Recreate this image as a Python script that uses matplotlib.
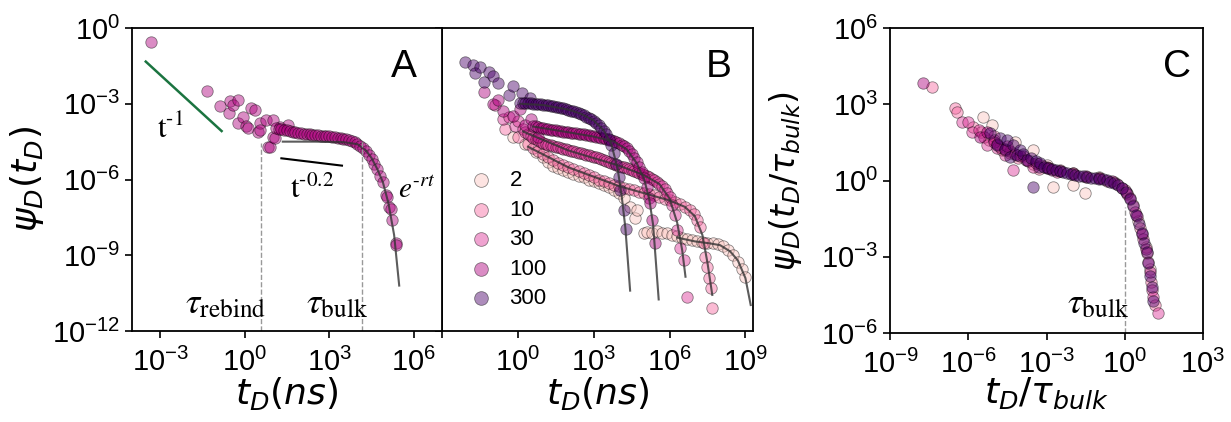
import numpy as np
import matplotlib
matplotlib.use("Agg")
import matplotlib.pyplot as plt
from matplotlib.ticker import FixedLocator, NullLocator, FuncFormatter

plt.rcParams["font.family"] = ["Liberation Sans", "DejaVu Sans"]
plt.rcParams["mathtext.fontset"] = "dejavusans"

# series names / colours (legend of panel B)
labels = ["2", "10", "30", "100", "300"]
colors = ["#fcc5c0", "#f768a1", "#dd3497", "#ae017e", "#49006a"]

# ---------------- panel A (log10 values) ----------------
a_logt = [-3.32, -1.33, -0.88, -0.57, -0.53, -0.42, -0.25, -0.25, -0.07, 0.06, 0.11,
          0.24, 0.35, 0.46, 0.53, 0.53, 0.77, 0.81, 0.88, 1.0, 1.0, 1.06, 1.24, 1.52,
          1.1, 1.2, 1.3, 1.4, 1.5, 1.6, 1.7, 1.8, 1.9, 2.0, 2.1, 2.2, 2.3, 2.4, 2.5,
          2.6, 2.7, 2.8, 2.9, 3.0, 3.1, 3.2, 3.3, 3.4, 3.5, 3.6, 3.7, 3.8, 3.9, 4.0,
          4.1, 4.2, 4.3, 4.4, 4.5, 4.6, 4.7, 4.8, 4.9,
          5.01, 5.06, 5.12, 5.18, 5.24, 5.36, 5.38]
a_logpsi = [-0.54, -2.48, -3.09, -3.36, -2.89, -3.05, -2.85, -3.75, -3.52, -3.88, -3.96,
            -3.17, -3.25, -4.11, -3.77, -4.04, -3.64, -4.70, -4.70, -4.30, -3.64, -4.36, -3.91, -3.84,
            -3.95, -3.98, -4.00, -4.03, -4.05, -4.08, -4.10, -4.12, -4.15, -4.17, -4.18, -4.20, -4.21, -4.23, -4.24,
            -4.25, -4.26, -4.27, -4.28, -4.29, -4.30, -4.32, -4.34, -4.36, -4.38, -4.41, -4.44, -4.48, -4.53, -4.59,
            -4.66, -4.76, -4.88, -5.04, -5.20, -5.40, -5.60, -5.85, -6.10,
            -6.61, -6.70, -7.08, -7.18, -7.60, -8.53, -8.60]
a_fit_logt = [1.35, 2.5, 3.5, 4.0, 4.3, 4.5, 4.7, 4.9, 5.1, 5.3, 5.48]
a_fit_logpsi = [-4.50, -4.50, -4.52, -4.60, -4.85, -5.15, -5.58, -6.10, -6.95, -8.20, -10.2]
a_slope1_logt = [-3.51, -0.82]
a_slope1_logpsi = [-1.33, -4.08]
a_slope02_logt = [1.30, 3.45]
a_slope02_logpsi = [-5.16, -5.45]
a_tau_rebind = 3.9
a_tau_bulk = 1.45e4

# ---------------- panel B ----------------
b2_logt = [-0.2, 0.3, 0.7, 1.0, 1.2, 1.4, 1.6, 1.8, 2.0, 2.2, 2.4, 2.6, 2.8, 3.0, 3.2, 3.4,
           3.6, 3.8, 4.0, 4.2, 4.44, 4.64, 4.71, 4.97, 5.1, 5.3, 5.5, 5.7, 5.9, 6.1, 6.3,
           6.5, 6.7, 6.9, 7.1, 7.3, 7.5, 7.7, 7.9, 8.1, 8.3, 8.5, 8.7, 8.85, 9.0]
b2_logpsi = [-4.3, -4.6, -4.9, -5.1, -5.3, -5.45, -5.55, -5.62, -5.7, -5.78, -5.85, -5.92, -6.0, -6.07,
             -6.14, -6.22, -6.3, -6.4, -6.55, -6.75, -7.08, -7.52, -7.2, -8.13, -8.07, -8.1, -8.05,
             -8.12, -8.13, -8.2, -8.25, -8.3, -8.35, -8.4, -8.43, -8.47, -8.5, -8.53, -8.57, -8.65,
             -8.8, -9.0, -9.25, -9.55, -9.85]
b10_logt = [-0.5, 0.0, 0.4, 0.6, 0.8, 1.0, 1.2, 1.4, 1.6, 1.8, 2.0, 2.2, 2.4, 2.6, 2.8, 3.0, 3.2,
            3.4, 3.6, 3.8, 4.0, 4.2, 4.4, 4.6, 4.8, 5.0, 5.2, 5.4, 5.6, 5.8, 6.0, 6.2, 6.4,
            6.6, 6.8, 6.95, 7.1, 7.22, 7.35, 7.42, 7.49, 7.55, 7.62, 7.69]
b10_logpsi = [-4.0, -4.3, -4.6, -4.75, -4.88, -5.0, -5.12, -5.23, -5.33, -5.43, -5.52, -5.6, -5.68,
              -5.76, -5.84, -5.92, -6.0, -6.07, -6.14, -6.2, -6.26, -6.32, -6.38, -6.43, -6.48,
              -6.53, -6.58, -6.63, -6.69, -6.76, -6.83, -6.9, -6.98, -7.08, -7.2, -7.38, -7.62,
              -7.87, -8.53, -9.06, -9.45, -9.91, -10.31, -11.1]
b30_logt = [-0.9, -0.6, -0.37, -0.1, 0.0,
            0.2, 0.3, 0.4, 0.5, 0.6, 0.7, 0.8, 0.9, 1.0, 1.1, 1.2, 1.3, 1.4, 1.5, 1.6, 1.7,
            1.8, 1.9, 2.0, 2.1, 2.2, 2.3, 2.4, 2.5, 2.6, 2.7, 2.8, 2.9, 3.0, 3.1, 3.2, 3.3,
            3.4, 3.5, 3.6, 3.7, 3.8, 3.9, 4.0, 4.1, 4.2, 4.3, 4.4, 4.5, 4.6, 4.7, 4.8, 4.9,
            5.0, 5.1, 5.2, 5.3, 5.4, 5.5, 5.6, 5.7, 5.8, 5.9, 6.0, 6.1, 6.2,
            6.3, 6.43, 6.56, 6.69]
b30_logpsi = [-3.05, -3.6, -3.51, -3.9, -3.7,
              -4.00, -4.10, -4.20, -4.28, -4.35, -4.40, -4.45, -4.50, -4.55, -4.59, -4.62, -4.65,
              -4.68, -4.71, -4.73, -4.76, -4.78, -4.81, -4.83, -4.86, -4.88, -4.91, -4.93, -4.96,
              -4.98, -5.01, -5.03, -5.06, -5.09, -5.12, -5.15, -5.19, -5.22, -5.26, -5.30, -5.34,
              -5.38, -5.42, -5.45, -5.49, -5.52, -5.56, -5.60, -5.64, -5.67, -5.71, -5.75, -5.79,
              -5.83, -5.88, -5.92, -5.97, -6.03, -6.10, -6.18, -6.27, -6.38, -6.52, -6.70, -7.00, -7.40,
              -8.0, -8.7, -9.2, -10.64]
b100_logt = [-1.36, -1.0, -0.8, -0.6, -0.2, 0.1, 0.3, 0.5, 0.8,
             0.6, 0.7, 0.8, 0.9, 1.0, 1.1, 1.2, 1.3, 1.4, 1.5, 1.6, 1.7, 1.8, 1.9, 2.0, 2.1,
             2.2, 2.3, 2.4, 2.5, 2.6, 2.7, 2.8, 2.9, 3.0, 3.1, 3.2, 3.3, 3.4, 3.5, 3.6, 3.7,
             3.8, 3.9, 4.0, 4.1, 4.2, 4.3, 4.4, 4.5, 4.6, 4.7, 4.8, 4.9, 5.0, 5.1, 5.2,
             5.24, 5.31, 5.44]
b100_logpsi = [-2.52, -3.0, -2.85, -3.3, -3.5, -3.2, -3.84, -3.6, -4.3,
               -3.88, -3.90, -3.93, -3.95, -3.97, -3.99, -4.00, -4.02, -4.04, -4.05, -4.07, -4.08,
               -4.10, -4.11, -4.13, -4.14, -4.15, -4.17, -4.18, -4.20, -4.21, -4.23, -4.25, -4.26,
               -4.28, -4.30, -4.32, -4.35, -4.37, -4.40, -4.42, -4.45, -4.48, -4.52, -4.56, -4.62,
               -4.68, -4.77, -4.88, -5.00, -5.15, -5.32, -5.50, -5.72, -5.95, -6.30, -6.75,
               -6.94, -7.6, -8.53]
b300_logt = [-2.09, -1.76, -1.71, -1.51, -1.36, -1.16, -1.0, -0.77, -0.37, -0.2, 0.16, 0.48,
             0.1, 0.2, 0.3, 0.4, 0.5, 0.6, 0.7, 0.8, 0.9, 1.0, 1.1, 1.2, 1.3, 1.4, 1.5, 1.6,
             1.7, 1.8, 1.9, 2.0, 2.1, 2.2, 2.3, 2.4, 2.5, 2.6, 2.7, 2.8, 2.9, 3.0, 3.1, 3.2,
             3.3, 3.4, 3.5, 3.6, 3.7, 3.8, 3.9, 4.0,
             4.05, 4.18, 4.28]
b300_logpsi = [-1.33, -1.47, -1.78, -1.53, -2.13, -1.73, -1.9, -2.19, -2.65, -2.3, -2.57, -2.77,
               -2.95, -2.95, -2.96, -2.97, -2.98, -2.99, -3.00, -3.01, -3.02, -3.03, -3.05, -3.06,
               -3.08, -3.10, -3.12, -3.14, -3.16, -3.18, -3.21, -3.24, -3.27, -3.30, -3.33, -3.37,
               -3.41, -3.46, -3.51, -3.56, -3.62, -3.69, -3.77, -3.86, -3.95, -4.07, -4.20, -4.38,
               -4.62, -4.95, -5.40, -5.90,
               -6.42, -7.21, -7.95]

b_fit_logt = {
    "2": [6.3, 7.0, 7.6, 8.0, 8.4, 8.7, 9.0, 9.21],
    "10": [0.4, 2.0, 4.0, 6.0, 6.6, 7.0, 7.3, 7.5, 7.69],
    "30": [0.2, 2.0, 4.0, 5.0, 5.6, 6.0, 6.3, 6.5, 6.63],
    "100": [0.6, 2.0, 3.0, 3.8, 4.3, 4.7, 5.0, 5.2, 5.35, 5.57],
    "300": [0.1, 1.0, 2.0, 2.5, 3.0, 3.4, 3.7, 3.95, 4.1, 4.25, 4.44],
}
b_fit_logpsi = {
    "2": [-8.3, -8.45, -8.53, -8.6, -8.85, -9.2, -9.9, -10.97],
    "10": [-4.7, -5.52, -6.26, -6.83, -7.08, -7.45, -8.2, -9.3, -10.57],
    "30": [-4.1, -4.85, -5.45, -5.83, -6.18, -6.75, -7.7, -8.8, -9.85],
    "100": [-3.9, -4.13, -4.3, -4.5, -4.8, -5.35, -6.0, -6.8, -7.8, -10.75],
    "300": [-3.0, -3.05, -3.23, -3.4, -3.66, -4.06, -4.6, -5.6, -6.6, -7.9, -10.4],
}

# ---------------- panel C (rescaled) ----------------
c2_logt = [-5.42, -5.1, -4.2, -3.5, -3.0, -2.74, -2.0, -1.97, -1.52, -1.0, -0.4, 0.1, 0.5, 0.8, 0.95]
c2_logpsi = [2.51, 2.18, 1.5, 1.2, 0.6, -0.25, 0.3, -0.18, -0.51, 0.12, -0.05, -0.5, -1.6, -2.6, -3.5]
c10_logt = [-7.38, -6.51, -6.44, -5.8, -5.5, -5.2, -5.0, -4.7, -4.4, -4.1, -3.5, -3.3, -2.9,
            -2.5, -1.5, -0.7, 0.0, 0.3, 0.6, 0.85, 1.0, 1.15]
c10_logpsi = [3.69, 2.84, 2.70, 2.1, 1.9, 1.6, 1.75, 1.2, 1.1, 0.9, 0.65, 0.45, 0.5,
              0.4, 0.15, 0.0, -0.38, -0.95, -1.85, -2.85, -4.0, -4.9]
c30_logt = [-6.25, -6.0, -5.87, -5.6, -5.4, -5.29, -5.0, -4.91, -4.8, -4.6, -4.4, -4.27, -3.9,
            -3.8, -3.5, -3.2, -3.0, -2.6, -2.0, -1.0, -0.3, 0.1,
            0.4, 0.7, 0.9, 1.03, 1.1, 1.29]
c30_logpsi = [2.31, 2.31, 1.92, 2.0, 1.7, 1.39, 1.6, 1.26, 1.3, 1.0, 1.15, 0.41, 0.95,
              0.8, 0.55, 0.6, 0.52, 0.35, 0.3, 0.1, -0.15, -0.55,
              -1.25, -2.3, -3.2, -4.3, -4.6, -5.23]
c100_logt = [-7.72, -5.55, -5.3, -5.0, -4.9, -4.6, -4.5, -4.2, -4.0, -3.7, -3.4, -3.0, -2.8,
             -2.5, -2.0, -1.5, -1.0, -0.5, -0.1, 0.2, 0.45, 0.65, 0.8, 0.95]
c100_logpsi = [3.85, 1.72, 1.9, 1.5, 1.45, 1.2, 1.35, 1.05, 0.95, 0.75, 0.7, 0.5, 0.42,
               0.38, 0.27, 0.17, 0.08, -0.03, -0.28, -0.7, -1.4, -2.1, -2.7, -3.6]
c300_logt = [-5.17, -4.9, -4.78, -4.6, -4.53, -4.4, -4.27, -4.14, -4.0, -3.9, -3.76, -3.6,
             -3.5, -3.4, -3.3, -3.25,
             -3.1, -2.95, -2.8, -2.65, -2.5, -2.35, -2.2, -2.05, -1.9, -1.75, -1.6, -1.45, -1.3,
             -1.15, -1.0, -0.85, -0.7, -0.55, -0.4, -0.25, -0.1, 0.05, 0.2, 0.32, 0.44, 0.55,
             0.65, 0.75, 0.84, 0.9, 0.97, 1.03, 1.1]
c300_logpsi = [1.85, 1.4, 1.66, 1.25, 1.59, 0.93, 1.39, 1.0, 1.2, 1.05, 0.8, 0.9,
               -0.25, 0.75, 0.55, 0.67,
               0.54, 0.5, 0.45, 0.41, 0.37, 0.32, 0.28, 0.25, 0.22, 0.19, 0.16, 0.14, 0.11,
               0.08, 0.06, 0.04, 0.01, -0.04, -0.1, -0.18, -0.3, -0.45, -0.72, -1.0, -1.35, -1.7,
               -2.08, -2.45, -2.8, -3.25, -3.75, -4.2, -4.75]

b_logt = [b2_logt, b10_logt, b30_logt, b100_logt, b300_logt]
b_logpsi = [b2_logpsi, b10_logpsi, b30_logpsi, b100_logpsi, b300_logpsi]
c_logt = [c2_logt, c10_logt, c30_logt, c100_logt, c300_logt]
c_logpsi = [c2_logpsi, c10_logpsi, c30_logpsi, c100_logpsi, c300_logpsi]

MS = 68
ALPHA = 0.45
TICK_FS = 21
LABEL_FS = 26


def pw(v):
    return 10.0 ** np.asarray(v)


def log_tick(val, pos):
    e = int(round(np.log10(val)))
    return r"$\mathdefault{10^{%d}}$" % e if e >= 0 else r"$\mathdefault{10^{-%d}}$" % -e


def style(ax, xlim, ylim, xticks, yticks):
    ax.set_xscale("log")
    ax.set_yscale("log")
    ax.set_xlim(*xlim)
    ax.set_ylim(*ylim)
    ax.xaxis.set_major_locator(FixedLocator(xticks))
    ax.yaxis.set_major_locator(FixedLocator(yticks))
    ax.xaxis.set_minor_locator(NullLocator())
    ax.yaxis.set_minor_locator(NullLocator())
    ax.xaxis.set_major_formatter(FuncFormatter(log_tick))
    ax.yaxis.set_major_formatter(FuncFormatter(log_tick))
    ax.tick_params(labelsize=TICK_FS, width=1.2, length=5)
    ax.tick_params(axis="x", pad=7)
    for s in ax.spines.values():
        s.set_linewidth(1.3)


fig = plt.figure(figsize=(12.31, 4.22), dpi=100)
ax_a = fig.add_axes([0.1072, 0.2156, 0.2519, 0.718])
ax_b = fig.add_axes([0.3591, 0.2156, 0.2526, 0.718])
ax_c = fig.add_axes([0.7230, 0.2109, 0.2543, 0.7227])
ax_a.set_zorder(3)

# ---- A ----
ax_a.scatter(pw(a_logt), pw(a_logpsi), s=MS, c=colors[3], alpha=ALPHA, edgecolors="k", linewidths=0.6)
ax_a.plot(pw(a_fit_logt), pw(a_fit_logpsi), color="#333333", lw=1.5, alpha=0.8)
ax_a.plot(pw(a_slope1_logt), pw(a_slope1_logpsi), color="#1b7440", lw=1.8)
ax_a.plot(pw(a_slope02_logt), pw(a_slope02_logpsi), color="black", lw=1.5)
ax_a.plot([a_tau_rebind, a_tau_rebind], [1e-12, 10 ** -4.56], ls="--", color="#999999", lw=1)
ax_a.plot([a_tau_bulk, a_tau_bulk], [1e-12, 10 ** -4.43], ls="--", color="#999999", lw=1)
ax_a.text(10 ** -3.12, 10 ** -4.34, r"$\mathrm{t}^{\text{-1}}$", fontsize=22, math_fontfamily="stix")
ax_a.text(10 ** 1.59, 10 ** -6.75, r"$\mathrm{t}^{\text{-0.2}}$", fontsize=22, math_fontfamily="stix")
ax_a.text(10 ** 5.42, 10 ** -6.73, r"$e^{\text{-}rt}$", fontsize=21, math_fontfamily="stix")
ax_a.text(10 ** -2.12, 10 ** -11.29, r"$\tau_{\mathrm{rebind}}$", fontsize=26, math_fontfamily="stix")
ax_a.text(10 ** 2.18, 10 ** -11.29, r"$\tau_{\mathrm{bulk}}$", fontsize=26, math_fontfamily="stix")
style(ax_a, (1e-4, 1e7), (1e-12, 1e0), [1e-3, 1e0, 1e3, 1e6], [1e-12, 1e-9, 1e-6, 1e-3, 1e0])
ax_a.set_xlabel(r"$t_D(ns)$", fontsize=LABEL_FS, labelpad=-1)
ax_a.set_ylabel(r"$\psi_D(t_D)$", fontsize=LABEL_FS)
ax_a.text(0.92, 0.93, "A", transform=ax_a.transAxes, ha="right", va="top", fontsize=28)

# ---- B ----
handles = []
for lab, col, lt, lp in zip(labels, colors, b_logt, b_logpsi):
    h = ax_b.scatter(pw(lt), pw(lp), s=MS, c=col, alpha=ALPHA, edgecolors="k", linewidths=0.6, label=lab)
    handles.append(h)
for lab in labels:
    ax_b.plot(pw(b_fit_logt[lab]), pw(b_fit_logpsi[lab]), color="#333333", lw=1.5, alpha=0.8)
style(ax_b, (1e-3, 2e9), (1e-12, 1e0), [1e-3, 1e0, 1e3, 1e6, 1e9], [1e-12, 1e-9, 1e-6, 1e-3, 1e0])
ax_b.xaxis.set_major_formatter(FuncFormatter(lambda v, p: "" if v < 1e-2 else log_tick(v, p)))
ax_b.tick_params(labelleft=False)
ax_b.set_xlabel(r"$t_D(ns)$", fontsize=LABEL_FS, labelpad=-1)
ax_b.text(0.93, 0.93, "B", transform=ax_b.transAxes, ha="right", va="top", fontsize=28)
ax_b.legend(handles=handles, frameon=False, loc="lower left", bbox_to_anchor=(0.024, 0.043),
            fontsize=16, handletextpad=0.3, labelspacing=0.38, borderaxespad=0.0,
            scatterpoints=1, markerscale=1.2)

# ---- C ----
for lab, col, lt, lp in zip(labels, colors, c_logt, c_logpsi):
    ax_c.scatter(pw(lt), pw(lp), s=MS, c=col, alpha=ALPHA, edgecolors="k", linewidths=0.6)
ax_c.plot([1.0, 1.0], [1e-6, 10 ** -1.03], ls="--", color="#999999", lw=1)
ax_c.text(10 ** -2.22, 10 ** -5.23, r"$\tau_{\mathrm{bulk}}$", fontsize=26, math_fontfamily="stix")
style(ax_c, (1e-9, 1e3), (1e-6, 1e6), [1e-9, 1e-6, 1e-3, 1e0, 1e3], [1e-6, 1e-3, 1e0, 1e3, 1e6])
ax_c.set_xlabel(r"$t_D/\tau_{bulk}$", fontsize=LABEL_FS, labelpad=-2)
ax_c.set_ylabel(r"$\psi_D(t_D/\tau_{bulk})$", fontsize=24, labelpad=12)
ax_c.text(0.96, 0.93, "C", transform=ax_c.transAxes, ha="right", va="top", fontsize=28)

fig.savefig("out.png", dpi=100)
